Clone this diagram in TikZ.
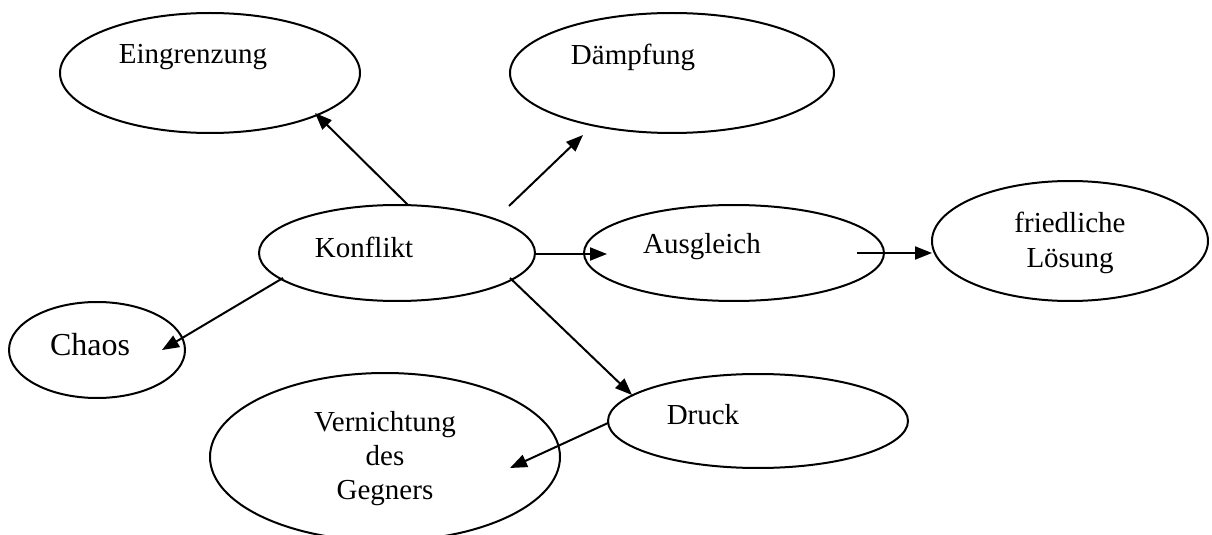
\documentclass[tikz,border=0pt]{standalone}
\usepackage{fontspec}
\setmainfont{Liberation Serif}
\usetikzlibrary{shapes.geometric,arrows.meta}
\begin{document}
\begin{tikzpicture}[x=0.5pt,y=-0.5pt,
  oval/.style={draw,ellipse,line width=1pt,inner sep=0pt},
  lbl/.style={font=\fontsize{14.5}{17.5}\selectfont,align=center,inner sep=0pt},
  conn/.style={line width=1pt,-{Triangle[length=8.5pt,width=6.5pt]}}]
\useasboundingbox (0,0) rectangle (1212,535);
% ellipses
\node[oval,minimum width=150pt,minimum height=60pt] (ein) at (210,73) {};
\node[oval,minimum width=162pt,minimum height=60pt] (dae) at (672,73) {};
\node[oval,minimum width=138pt,minimum height=48pt] (kon) at (397,253) {};
\node[oval,minimum width=150pt,minimum height=48pt] (aus) at (734,253) {};
\node[oval,minimum width=138pt,minimum height=60pt] (fri) at (1070,241) {};
\node[oval,minimum width=88pt,minimum height=48pt] (cha) at (97,350) {};
\node[oval,minimum width=150pt,minimum height=47pt] (dru) at (758,421) {};
\node[oval,minimum width=175pt,minimum height=84pt] (ver) at (385,457) {};
% texts
\node[lbl] (tein) at (193,57) {Eingrenzung};
\node[lbl] (tdae) at (633,57) {Dämpfung};
\node[lbl] (tkon) at (364,247) {Konflikt};
\node[lbl] (taus) at (702,247) {Ausgleich};
\node[lbl] (tfri) at (1070,243) {friedliche\\Lösung};
\node[lbl,font=\fontsize{16}{19}\selectfont] (tcha) at (90,345) {Chaos};
\node[lbl] (tdru) at (703,415) {Druck};
\node[lbl,font=\fontsize{14.5}{17}\selectfont] (tver) at (385,459) {Vernichtung\\des\\Gegners};
% connector ends
\coordinate (a1) at (408,205); \coordinate (b1) at (315,113);
\coordinate (a2) at (509,206); \coordinate (b2) at (583,135);
\coordinate (a3) at (535,254); \coordinate (b3) at (607,254);
\coordinate (a4) at (857,253); \coordinate (b4) at (932,253);
\coordinate (a5) at (283,278); \coordinate (b5) at (162,350);
\coordinate (a6) at (510,278); \coordinate (b6) at (632,395);
\coordinate (a7) at (608,423); \coordinate (b7) at (510,468);
\draw[conn] (a1) -- (b1);
\draw[conn] (a2) -- (b2);
\draw[conn] (a3) -- (b3);
\draw[conn] (a4) -- (b4);
\draw[conn] (a5) -- (b5);
\draw[conn] (a6) -- (b6);
\draw[conn] (a7) -- (b7);
\end{tikzpicture}
\end{document}
